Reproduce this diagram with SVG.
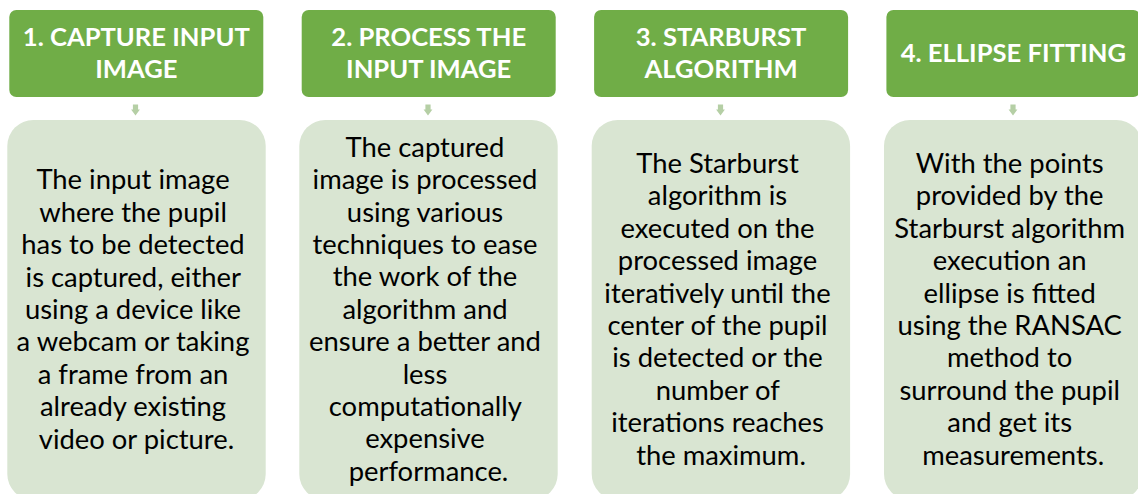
<svg xmlns="http://www.w3.org/2000/svg" width="1138" height="494" viewBox="0 0 1138 494">
  <defs>
    <style>
      .hdr { fill: #70AD47; }
      .body { fill: #D9E5D2; }
      .arrow { fill: #B5CFA5; }
      .ht { font-family: Lato, "Open Sans", sans-serif; font-weight: bold; font-size: 25.6px; fill: #FFFFFF; text-anchor: middle; }
      .bt { font-family: Lato, "Open Sans", sans-serif; font-size: 27.4px; fill: #000000; text-anchor: middle; }
    </style>
    <path id="down" d="M -2.6 0 H 2.6 V 5 H 4.4 L 0 11 L -4.4 5 H -2.6 Z"/>
  </defs>
  <rect width="1138" height="494" fill="#FFFFFF"/>

  <!-- connectors between each header and its description -->
  <g id="connectors" class="arrow">
    <use href="#down" x="135.5" y="104.5"/>
    <use href="#down" x="428" y="104.5"/>
    <use href="#down" x="720.5" y="104.5"/>
    <use href="#down" x="1013" y="104.5"/>
  </g>

  <g id="step1-header">
    <rect class="hdr" x="9.3" y="10" width="254" height="87" rx="7"/>
    <text class="ht" x="136.3" y="46">1. CAPTURE INPUT</text>
    <text class="ht" x="136.3" y="78">IMAGE</text>
  </g>
  <g id="step1-body">
    <rect class="body" x="7.3" y="120" width="258.4" height="380" rx="26"/>
    <text class="bt">
      <tspan x="136.5" y="189.3">The input image</tspan>
      <tspan x="136.5" dy="32.4">where the pupil</tspan>
      <tspan x="136.5" dy="32.4">has to be detected</tspan>
      <tspan x="136.5" dy="32.4">is captured, either</tspan>
      <tspan x="136.5" dy="32.4">using a device like</tspan>
      <tspan x="136.5" dy="32.4">a webcam or taking</tspan>
      <tspan x="136.5" dy="32.4">a frame from an</tspan>
      <tspan x="136.5" dy="32.4">already existing</tspan>
      <tspan x="136.5" dy="32.4">video or picture.</tspan>
    </text>
  </g>

  <g id="step2-header">
    <rect class="hdr" x="301.7" y="10" width="254" height="87" rx="7"/>
    <text class="ht" x="428.7" y="46">2. PROCESS THE</text>
    <text class="ht" x="428.7" y="78">INPUT IMAGE</text>
  </g>
  <g id="step2-body">
    <rect class="body" x="299.3" y="120" width="258.4" height="380" rx="26"/>
    <text class="bt">
      <tspan x="428.5" y="156.7">The captured</tspan>
      <tspan x="428.5" dy="32.4">image is processed</tspan>
      <tspan x="428.5" dy="32.4">using various</tspan>
      <tspan x="428.5" dy="32.4">techniques to ease</tspan>
      <tspan x="428.5" dy="32.4">the work of the</tspan>
      <tspan x="428.5" dy="32.4">algorithm and</tspan>
      <tspan x="428.5" dy="32.4">ensure a better and</tspan>
      <tspan x="428.5" dy="32.4">less</tspan>
      <tspan x="428.5" dy="32.4">computationally</tspan>
      <tspan x="428.5" dy="32.4">expensive</tspan>
      <tspan x="428.5" dy="32.4">performance.</tspan>
    </text>
  </g>

  <g id="step3-header">
    <rect class="hdr" x="594.1" y="10" width="254" height="87" rx="7"/>
    <text class="ht" x="721.1" y="46">3. STARBURST</text>
    <text class="ht" x="721.1" y="78">ALGORITHM</text>
  </g>
  <g id="step3-body">
    <rect class="body" x="591.7" y="120" width="258.4" height="380" rx="26"/>
    <text class="bt">
      <tspan x="721" y="173">The Starburst</tspan>
      <tspan x="721" dy="32.4">algorithm is</tspan>
      <tspan x="721" dy="32.4">executed on the</tspan>
      <tspan x="721" dy="32.4">processed image</tspan>
      <tspan x="721" dy="32.4">iteratively until the</tspan>
      <tspan x="721" dy="32.4">center of the pupil</tspan>
      <tspan x="721" dy="32.4">is detected or the</tspan>
      <tspan x="721" dy="32.4">number of</tspan>
      <tspan x="721" dy="32.4">iterations reaches</tspan>
      <tspan x="721" dy="32.4">the maximum.</tspan>
    </text>
  </g>

  <g id="step4-header">
    <rect class="hdr" x="886.4" y="10" width="254" height="87" rx="7"/>
    <text class="ht" x="1013.4" y="62">4. ELLIPSE FITTING</text>
  </g>
  <g id="step4-body">
    <rect class="body" x="884" y="120" width="258.4" height="380" rx="26"/>
    <text class="bt">
      <tspan x="1013.2" y="173">With the points</tspan>
      <tspan x="1013.2" dy="32.4">provided by the</tspan>
      <tspan x="1013.2" dy="32.4">Starburst algorithm</tspan>
      <tspan x="1013.2" dy="32.4">execution an</tspan>
      <tspan x="1013.2" dy="32.4">ellipse is fitted</tspan>
      <tspan x="1013.2" dy="32.4">using the RANSAC</tspan>
      <tspan x="1013.2" dy="32.4">method to</tspan>
      <tspan x="1013.2" dy="32.4">surround the pupil</tspan>
      <tspan x="1013.2" dy="32.4">and get its</tspan>
      <tspan x="1013.2" dy="32.4">measurements.</tspan>
    </text>
  </g>
</svg>
